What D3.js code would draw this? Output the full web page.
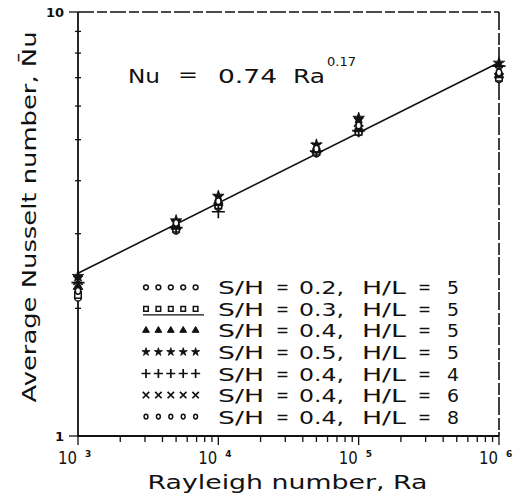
<!DOCTYPE html>
<html>
<head>
<meta charset="utf-8">
<script src="https://cdn.jsdelivr.net/npm/d3@7"></script>
<style>
  body { margin: 0; background: #fff; }
  svg text { font-family: "DejaVu Sans", sans-serif; fill: #111; }
</style>
</head>
<body>
<svg id="chart" width="521" height="503"></svg>
<script>
// Rayleigh numbers where measurements were taken
const raValues = [1e3, 5e3, 1e4, 5e4, 1e5, 1e6];

// average Nusselt number per configuration
const nuSH02HL5 = [2.12, 3.05, 3.47, 4.64, 5.20, 6.95];
const nuSH03HL5 = [2.15, 3.08, 3.50, 4.68, 5.22, 7.00];
const nuSH04HL5 = [2.25, 3.12, 3.55, 4.72, 5.30, 7.10];
const nuSH05HL5 = [2.38, 3.22, 3.68, 4.86, 5.62, 7.58];
const nuSH04HL4 = [2.30, 3.10, 3.38, 4.70, 5.25, 7.45];
const nuSH04HL6 = [2.33, 3.15, 3.62, 4.80, 5.50, 7.30];
const nuSH04HL8 = [2.20, 3.18, 3.58, 4.76, 5.40, 7.20];

const shLabels = ["0.2", "0.3", "0.4", "0.5", "0.4", "0.4", "0.4"];
const hlLabels = ["5", "5", "5", "5", "4", "6", "8"];

// correlation line Nu = 0.74 Ra^0.17
const fitRa = [1e3, 1e6];
const fitNu = [2.42, 7.6];

const xTicks = [1e3, 1e4, 1e5, 1e6];
const xExponents = ["3", "4", "5", "6"];
const yTicks = [1, 10];
const yTickLabels = ["1", "10"];

const series = [
  { values: nuSH02HL5, shape: "circle" },
  { values: nuSH03HL5, shape: "square" },
  { values: nuSH04HL5, shape: "triangle" },
  { values: nuSH05HL5, shape: "star" },
  { values: nuSH04HL4, shape: "plus" },
  { values: nuSH04HL6, shape: "times" },
  { values: nuSH04HL8, shape: "oval" }
];

const svg = d3.select("#chart");
const mLeft = 78, mRight = 499, mTop = 12, mBottom = 436;

const x = d3.scaleLog().domain([1e3, 1e6]).range([mLeft, mRight]);
const y = d3.scaleLog().domain([1, 10]).range([mBottom, mTop]);

// draw a marker of a given shape at (cx, cy), s = size factor
function marker(g, shape, cx, cy, s) {
  const t = `translate(${cx},${cy})`;
  if (shape === "circle" || shape === "oval") {
    g.append("ellipse").attr("cx", cx).attr("cy", cy)
      .attr("rx", shape === "oval" ? s * 0.8 : s).attr("ry", s)
      .attr("fill", "#fff").attr("stroke", "#111").attr("stroke-width", 1.5);
  } else if (shape === "square") {
    g.append("path").attr("transform", t)
      .attr("d", d3.symbol(d3.symbolSquare, s * s * 3.6)())
      .attr("fill", "#fff").attr("stroke", "#111").attr("stroke-width", 1.5);
  } else if (shape === "triangle") {
    g.append("path").attr("transform", t)
      .attr("d", d3.symbol(d3.symbolTriangle, s * s * 3.4)())
      .attr("fill", "#111").attr("stroke", "#111").attr("stroke-width", 1);
  } else if (shape === "star") {
    g.append("path").attr("transform", t)
      .attr("d", d3.symbol(d3.symbolStar, s * s * 3.6)())
      .attr("fill", "#111").attr("stroke", "#111").attr("stroke-width", 0.8);
  } else if (shape === "plus") {
    g.append("path").attr("transform", t)
      .attr("d", d3.symbol(d3.symbolPlus, s * s * 5)())
      .attr("fill", "none").attr("stroke", "#111").attr("stroke-width", 1.7);
  } else if (shape === "times") {
    g.append("path").attr("transform", t)
      .attr("d", d3.symbol(d3.symbolTimes, s * s * 5)())
      .attr("fill", "none").attr("stroke", "#111").attr("stroke-width", 1.7);
  }
}

// text piece stretched to a given width (the original uses a wide plotter font)
function piece(parent, str, px, py, size, w) {
  const el = parent.append("text").attr("x", px).attr("y", py)
    .attr("font-size", size).text(str);
  if (w) el.attr("textLength", w).attr("lengthAdjust", "spacingAndGlyphs");
  return el;
}

// frame: left & bottom solid, top & right look broken in the scan
svg.append("line").attr("x1", mLeft).attr("x2", mLeft).attr("y1", mTop).attr("y2", mBottom + 1)
  .attr("stroke", "#111").attr("stroke-width", 1.8);
svg.append("line").attr("x1", mLeft - 1).attr("x2", mRight).attr("y1", mBottom).attr("y2", mBottom)
  .attr("stroke", "#111").attr("stroke-width", 1.8);
svg.append("line").attr("x1", mLeft).attr("x2", mRight).attr("y1", mTop).attr("y2", mTop)
  .attr("stroke", "#111").attr("stroke-width", 1.6).attr("stroke-dasharray", "16,3,10,3");
svg.append("line").attr("x1", mRight).attr("x2", mRight).attr("y1", mTop).attr("y2", mBottom)
  .attr("stroke", "#111").attr("stroke-width", 1.6).attr("stroke-dasharray", "18,3,12,2");

// minor / major ticks
const ticks = svg.append("g").attr("stroke", "#111").attr("stroke-width", 1.3);
const yMinor = y.ticks().filter(v => !yTicks.includes(v));
yMinor.forEach(v => {
  ticks.append("line").attr("x1", mLeft - 3).attr("x2", mLeft + 3).attr("y1", y(v)).attr("y2", y(v));
});
yTicks.forEach(v => {
  ticks.append("line").attr("x1", mLeft - 9).attr("x2", mLeft).attr("y1", y(v)).attr("y2", y(v));
});
const xMinor = x.ticks().filter(v => !xTicks.includes(v));
xMinor.forEach(v => {
  ticks.append("line").attr("x1", x(v)).attr("x2", x(v)).attr("y1", mBottom).attr("y2", mBottom + 6);
});
xTicks.forEach(v => {
  ticks.append("line").attr("x1", x(v)).attr("x2", x(v)).attr("y1", mBottom).attr("y2", mBottom + 9);
});

// tick labels
yTicks.forEach((v, i) => {
  svg.append("text").attr("x", mLeft - 14).attr("y", y(v) + 5)
    .attr("text-anchor", "end").attr("font-size", 13).attr("font-weight", "bold")
    .text(yTickLabels[i]);
});
xTicks.forEach((v, i) => {
  svg.append("text").attr("x", x(v) - 1).attr("y", 464)
    .attr("text-anchor", "end").attr("font-size", 18)
    .attr("textLength", 19).attr("lengthAdjust", "spacingAndGlyphs").text("10");
  svg.append("text").attr("x", x(v) + 7).attr("y", 457)
    .attr("font-size", 9).attr("font-weight", "bold").text(xExponents[i]);
});

// axis titles
svg.append("text").attr("x", (mLeft + mRight) / 2 - 1).attr("y", 489)
  .attr("text-anchor", "middle").attr("font-size", 19)
  .attr("textLength", 280).attr("lengthAdjust", "spacingAndGlyphs")
  .text("Rayleigh number, Ra");
svg.append("text").attr("transform", "translate(36,217) rotate(-90)")
  .attr("text-anchor", "middle").attr("font-size", 19)
  .attr("textLength", 371).attr("lengthAdjust", "spacingAndGlyphs")
  .text("Average Nusselt number, N\u0304u");

// correlation line
svg.append("path")
  .datum(fitRa.map((r, i) => [r, fitNu[i]]))
  .attr("fill", "none").attr("stroke", "#111").attr("stroke-width", 1.6)
  .attr("d", d3.line().x(d => x(d[0])).y(d => y(d[1])));

// data markers
const pts = svg.append("g");
series.forEach(s => {
  s.values.forEach((v, i) => marker(pts, s.shape, x(raValues[i]), y(v), 3.4));
});

// equation
const eq = svg.append("g");
piece(eq, "Nu", 128, 83, 20, 32);
piece(eq, "=", 178, 81, 20, 20);
piece(eq, "0.74", 218, 83, 20, 59);
piece(eq, "Ra", 293, 83, 20, 32);
piece(eq, "0.17", 327, 66, 13);

// legend
const legend = svg.append("g");
const rowY0 = 287.3, rowStep = 21.55;
const symX0 = 146, symStep = 12.4;
series.forEach((s, r) => {
  const ry = rowY0 + r * rowStep;
  for (let k = 0; k < 5; k++) marker(legend, s.shape, symX0 + k * symStep, ry, 2.4);
  piece(legend, "S/H", 218, ry + 7, 17.5, 46);
  piece(legend, "=", 276, ry + 6, 17.5, 13);
  piece(legend, shLabels[r] + ",", 299, ry + 7, 17.5, 45);
  piece(legend, "H/L", 362, ry + 7, 17.5, 44);
  piece(legend, "=", 418, ry + 6, 17.5, 13);
  piece(legend, hlLabels[r], 447, ry + 7, 17.5, 12);
});
// underline beneath the second legend row's symbols
legend.append("line").attr("x1", 143).attr("x2", 204)
  .attr("y1", rowY0 + rowStep + 6).attr("y2", rowY0 + rowStep + 6)
  .attr("stroke", "#111").attr("stroke-width", 1.3);
</script>
</body>
</html>
